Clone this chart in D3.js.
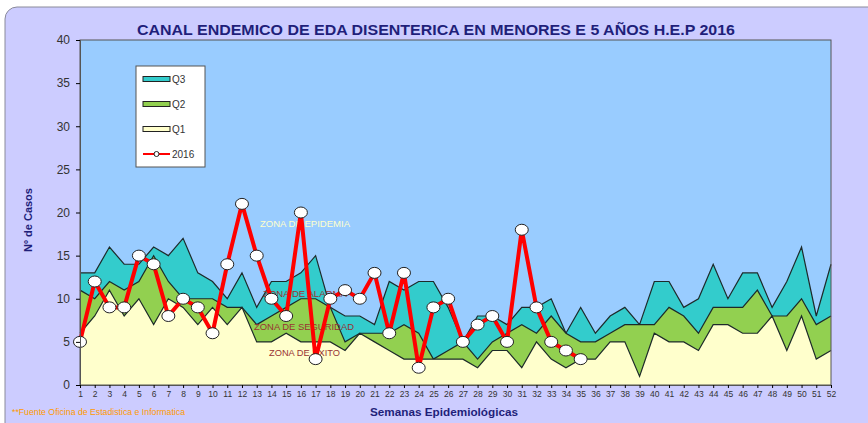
<!DOCTYPE html>
<html>
<head>
<meta charset="utf-8">
<script src="https://cdn.jsdelivr.net/npm/d3@7"></script>
<style>
  body { margin: 0; background: #fff; }
  text { font-family: "Liberation Sans", Arial, sans-serif; }
</style>
</head>
<body>
<div id="chart"></div>
<script>
// weeks 1..52
var weeks = d3.range(1, 53)

// endemic channel quartiles
var q3 = [13,13,16,14,14,16,15,17,13,12,10,13,9, 12,12,13,15,9,8,8,7,12,11,12,12,9,
          5,8,8,7,9,9,10,6,9,6,8,9,7, 12,12,9,10,14,10,13,13,9,12,16,8,14]
var q2 = [11,10,12,11,12,15,12,10,10,10,9,9,7, 8,9,10,10,9,5,6,6,6,7,6,3,4,
          5,3,5,6,7,6,8,6,5,5,6,7,7, 7,9,8,6,9,9,9,11,8,8,10,7,8]
var q1 = [6,8,11,8,10,7,10,9,7,9,7,9,5, 5,6,5,5,5,4,6,5,4,3,3,3,3,
          3,2,4,4,2,5,3,2,3,3,5,5,1, 6,5,5,4,7,7,6,6,8,4,8,3,4]

// cases 2016 (weeks 1..35)
var cases2016 = [5,12,9,9,15,14,8,10,9,6,14,21,15,10,8,20,3,10,11,10,
                 13,6,13,2,9,10,5,7,8,5,18,9,5,4,3]

var yTicks = [0,5,10,15,20,25,30,35,40]

const width = 868, height = 423
const margin = {left: 80, right: 37, top: 40, bottom: 38}

var svg = d3.select("#chart").append("svg")
    .attr("width", width)
    .attr("height", height)

// outer panel
svg.append("rect")
    .attr("x", 5).attr("y", 7)
    .attr("width", width + 20).attr("height", height + 20)
    .attr("rx", 12)
    .attr("fill", "#CCCCFF")
    .attr("stroke", "#8a8a9a")

var x = d3.scaleLinear()
    .domain([1, 52])
    .range([margin.left, width - margin.right])

var y = d3.scaleLinear()
    .domain([0, 40])
    .range([height - margin.bottom, margin.top])

// plot background = zona de epidemia
svg.append("rect")
    .attr("x", x(1)).attr("y", y(40))
    .attr("width", x(52) - x(1)).attr("height", y(0) - y(40))
    .attr("fill", "#99CCFF")

function drawBand(vals, color) {
    var area = d3.area()
        .x((d, i) => x(weeks[i]))
        .y0(y(0))
        .y1(d => y(d))
    var line = d3.line()
        .x((d, i) => x(weeks[i]))
        .y(d => y(d))
    svg.append("path").datum(vals)
        .attr("d", area)
        .attr("fill", color)
    svg.append("path").datum(vals)
        .attr("d", line)
        .attr("fill", "none")
        .attr("stroke", "#1d2a2a")
        .attr("stroke-width", 1.2)
}

drawBand(q3, "#33CCCC")
drawBand(q2, "#92D050")
drawBand(q1, "#FFFFCC")

// frame
svg.append("rect")
    .attr("x", x(1)).attr("y", y(40))
    .attr("width", x(52) - x(1)).attr("height", y(0) - y(40))
    .attr("fill", "none")
    .attr("stroke", "#555")
    .attr("stroke-width", 1)

// zone labels
var zones = [
    {t: "ZONA DE EPIDEMIA", x: 260, y: 227, w: 90, c: "#FFFFCC"},
    {t: "ZONA DE ALARMA", x: 263, y: 297, w: 84, c: "#993333"},
    {t: "ZONA DE SEGURIDAD", x: 254, y: 330, w: 100, c: "#993333"},
    {t: "ZONA DE EXITO", x: 269, y: 356, w: 71, c: "#993333"}
]
svg.selectAll(".zone").data(zones).enter().append("text")
    .attr("class", "zone")
    .attr("x", d => d.x).attr("y", d => d.y)
    .attr("textLength", d => d.w)
    .attr("lengthAdjust", "spacingAndGlyphs")
    .attr("font-size", 9.5)
    .attr("fill", d => d.c)
    .text(d => d.t)

// 2016 line
var line2016 = d3.line()
    .x((d, i) => x(weeks[i]))
    .y(d => y(d))

svg.append("path").datum(cases2016)
    .attr("d", line2016)
    .attr("fill", "none")
    .attr("stroke", "#FF0000")
    .attr("stroke-width", 4)
    .attr("stroke-linejoin", "round")

svg.selectAll(".pt").data(cases2016).enter().append("ellipse")
    .attr("class", "pt")
    .attr("cx", (d, i) => x(weeks[i]))
    .attr("cy", d => y(d))
    .attr("rx", 6.5).attr("ry", 5.5)
    .attr("fill", "#fff")
    .attr("stroke", "#222")
    .attr("stroke-width", 1)

// axes
var yAxis = d3.axisLeft(y).tickValues(yTicks).tickSize(4).tickPadding(6)
var gy = svg.append("g")
    .attr("transform", `translate(${x(1)},0)`)
    .call(yAxis)
gy.select(".domain").attr("stroke", "#555")
gy.selectAll("text").attr("font-size", 12).attr("fill", "#333").attr("font-family", "Liberation Sans, Arial")

var xAxis = d3.axisBottom(x).tickValues(weeks).tickFormat(d3.format("d")).tickSize(3).tickPadding(3)
var gx = svg.append("g")
    .attr("transform", `translate(0,${y(0)})`)
    .call(xAxis)
gx.select(".domain").attr("stroke", "#555")
gx.selectAll("text").attr("font-size", 8.5).attr("fill", "#333").attr("font-family", "Liberation Sans, Arial")

// title
svg.append("text")
    .attr("x", 436).attr("y", 35)
    .attr("text-anchor", "middle")
    .attr("font-size", 14)
    .attr("font-weight", "bold")
    .attr("fill", "#1F1F7A")
    .attr("textLength", 598)
    .attr("lengthAdjust", "spacingAndGlyphs")
    .text("CANAL ENDEMICO DE EDA DISENTERICA EN MENORES E 5 AÑOS H.E.P 2016")

// axis titles
svg.append("text")
    .attr("transform", "translate(32,220) rotate(-90)")
    .attr("text-anchor", "middle")
    .attr("font-size", 11)
    .attr("font-weight", "bold")
    .attr("fill", "#1F1F7A")
    .text("Nº de Casos")

svg.append("text")
    .attr("x", 444).attr("y", 416)
    .attr("text-anchor", "middle")
    .attr("font-size", 11)
    .attr("font-weight", "bold")
    .attr("fill", "#1F1F7A")
    .attr("textLength", 148)
    .attr("lengthAdjust", "spacingAndGlyphs")
    .text("Semanas Epidemiológicas")

svg.append("text")
    .attr("x", 12).attr("y", 415)
    .attr("font-size", 9)
    .attr("fill", "#FF9900")
    .attr("textLength", 173)
    .attr("lengthAdjust", "spacingAndGlyphs")
    .text("**Fuente Oficina de Estadistica e Informatica")

// legend
var legendItems = [
    {name: "Q3", color: "#33CCCC"},
    {name: "Q2", color: "#92D050"},
    {name: "Q1", color: "#FFFFCC"},
    {name: "2016", color: "#FF0000"}
]
var legend = svg.append("g")
legend.append("rect")
    .attr("x", 136).attr("y", 66)
    .attr("width", 69).attr("height", 101)
    .attr("fill", "#fff")
    .attr("stroke", "#555")

legendItems.forEach(function(d, i) {
    var ly = 79 + i * 25
    if (d.name == "2016") {
        legend.append("line")
            .attr("x1", 143).attr("x2", 170)
            .attr("y1", ly).attr("y2", ly)
            .attr("stroke", d.color).attr("stroke-width", 2)
        legend.append("circle")
            .attr("cx", 156.5).attr("cy", ly).attr("r", 2.5)
            .attr("fill", "#fff").attr("stroke", "#222")
    } else {
        legend.append("rect")
            .attr("x", 143).attr("y", ly - 2.5)
            .attr("width", 27).attr("height", 5)
            .attr("fill", d.color)
            .attr("stroke", "#222").attr("stroke-width", 1)
    }
    legend.append("text")
        .attr("x", 172).attr("y", ly + 3.5)
        .attr("font-size", 10)
        .attr("fill", "#333")
        .text(d.name)
})
</script>
</body>
</html>
